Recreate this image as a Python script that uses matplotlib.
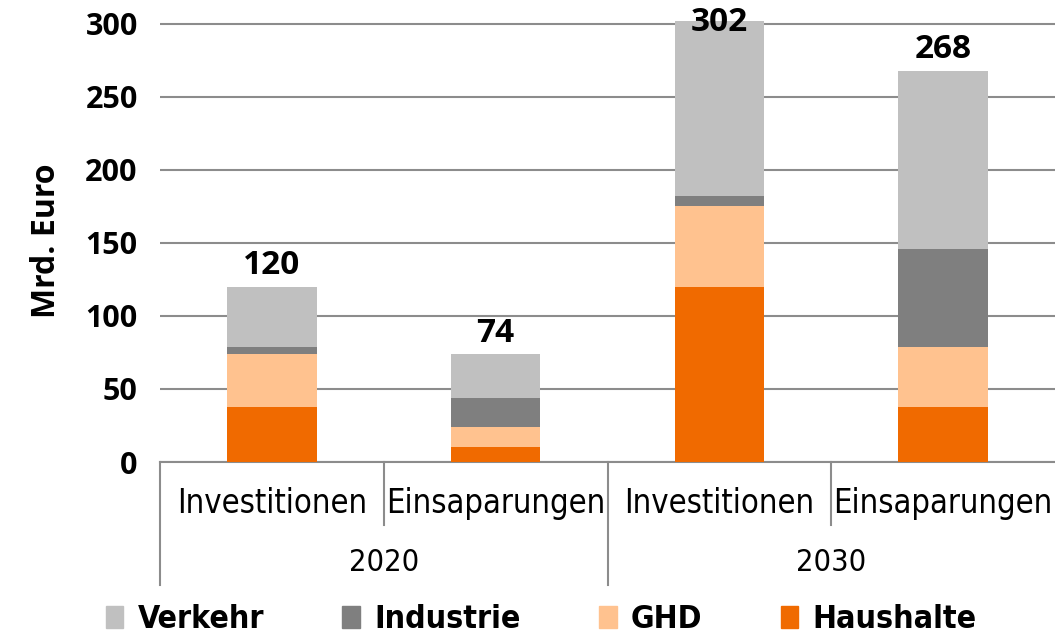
import numpy as np
import matplotlib
matplotlib.use('Agg')
import matplotlib.pyplot as plt
from matplotlib.patches import Patch

# Daten (Mrd. Euro)
categories = ['Investitionen', 'Einsaparungen', 'Investitionen', 'Einsaparungen']
years = ['2020', '2030']
haushalte = [38, 10, 120, 38]
ghd = [36, 14, 55, 41]
industrie = [5, 20, 7, 67]
verkehr = [41, 30, 120, 122]
totals = [120, 74, 302, 268]

series = [('Haushalte', haushalte, '#F06A00'),
          ('GHD', ghd, '#FFC28F'),
          ('Industrie', industrie, '#7F7F7F'),
          ('Verkehr', verkehr, '#C0C0C0')]

plt.rcParams['font.family'] = ['Open Sans', 'DejaVu Sans']
cond = dict(family='DejaVu Sans', stretch='condensed')

fig = plt.figure(figsize=(10.55, 6.37), dpi=100)
ax = fig.add_axes([160 / 1055, 1 - 462 / 637, 1 - 160 / 1055, (462 - 19.6) / 637])

x = np.arange(len(categories))
bottom = np.zeros(len(categories))
for name, vals, col in series:
    ax.bar(x, vals, 0.4, bottom=bottom, color=col, zorder=3, clip_on=False)
    bottom += np.array(vals)

for xi, t in zip(x, totals):
    ax.text(xi, t + 3, str(t), ha='center', va='bottom', fontsize=24,
            fontweight='bold', zorder=4)
# 302 label overlaps the bar top in the original
ax.texts[2].set_y(totals[2] - 12)

ax.set_xlim(-0.5, 3.5)
ax.set_ylim(0, 303)
ax.set_yticks(np.arange(0, 301, 50))
ax.yaxis.grid(True, color='#8C8C8C', linewidth=1.5, zorder=0)
ax.tick_params(axis='y', length=0, pad=16, labelsize=22)
for lbl in ax.get_yticklabels():
    lbl.set_fontweight('bold')
ax.set_xticks([])
for s in ['top', 'right', 'left']:
    ax.spines[s].set_visible(False)
ax.spines['bottom'].set_color('#8C8C8C')
ax.spines['bottom'].set_linewidth(1.5)
ax.set_ylabel('Mrd. Euro', fontsize=23, fontweight='bold', labelpad=16)

trans = ax.get_xaxis_transform()
# group separators
for sx, depth in [(-0.5, -0.278), (0.5, -0.142), (1.5, -0.278), (2.5, -0.142)]:
    ax.plot([sx, sx], [0, depth], transform=trans, color='#8C8C8C',
            linewidth=1.5, clip_on=False)

for xi, c in zip(x, categories):
    ax.text(xi, -0.093, c, transform=trans, ha='center', va='center',
            fontsize=23.5, **cond)
for i, y in enumerate(years):
    ax.text(2 * i + 0.5, -0.228, y, transform=trans, ha='center', va='center',
            fontsize=22, **cond)

handles = [Patch(color=col) for _, _, col in series[::-1]]
labels = [name for name, _, _ in series[::-1]]
leg = fig.legend(handles, labels, loc='center', bbox_to_anchor=(0.513, 0.027),
                 ncol=4, frameon=False, handlelength=0.55, handleheight=0.7,
                 handletextpad=0.45, columnspacing=2.45,
                 prop={'family': 'DejaVu Sans', 'stretch': 'condensed',
                       'size': 23, 'weight': 'bold'})

fig.savefig('out.png', dpi=100)
